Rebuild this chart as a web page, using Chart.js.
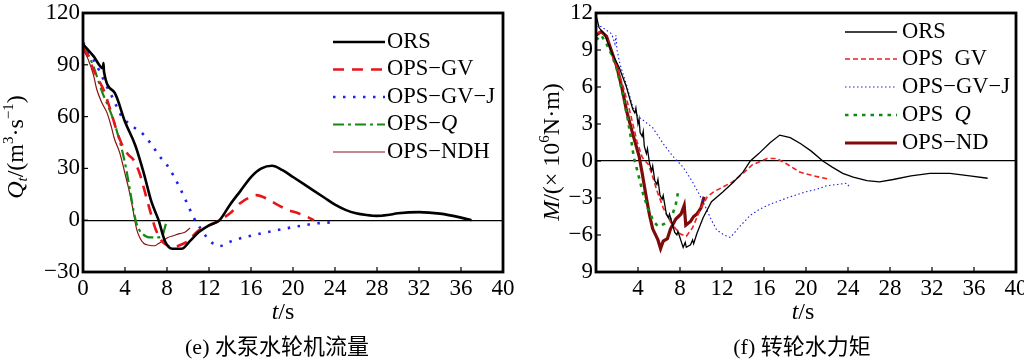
<!DOCTYPE html>
<html>
<head>
<meta charset="utf-8">
<script src="https://cdn.jsdelivr.net/npm/chart.js@4.4.0/dist/chart.umd.min.js"></script>
<style>
html, body { margin: 0; padding: 0; background: #fff; }
#wrap { position: relative; width: 1024px; height: 364px; overflow: hidden; }
.box { position: absolute; top: 0; height: 364px; }
</style>
</head>
<body>
<div id="wrap">
  <div class="box" style="left:0;width:520px"><canvas id="flow"></canvas></div>
  <div class="box" style="left:520px;width:504px"><canvas id="torque"></canvas></div>
</div>
<script>
// ---- (e) pump-turbine flow, Q (m3/s) vs t (s)
var flowOrsT = [0, 1, 1.9, 1.95, 2.0, 3, 4, 5, 5.8, 6.5, 7.2, 7.8, 8.5, 9.4, 10.2, 11, 12, 13, 14, 15, 16, 17, 18, 19, 20, 21, 22, 23, 24, 25, 26, 27, 28, 29, 30, 32, 34, 36, 37];
var flowOrsQ = [102, 95, 88, 91, 86, 74, 57, 43, 27, 11, 0, -12, -16.5, -16.5, -12, -7, -3, 0, 9, 17, 25, 30, 31.5, 29, 25, 21, 17, 13, 9, 6, 4, 3, 2.5, 3, 4, 4.7, 3.8, 1.5, 0];
var flowGvT = [0, 0.5, 1, 1.6, 2, 2.6, 3.2, 3.7, 4.3, 4.8, 5.4, 6, 6.5, 6.9, 7.5, 8, 8.5, 9, 9.9, 11, 12, 13, 14, 15, 16, 16.5, 17.5, 18.5, 19.5, 20.5, 21.5, 22];
var flowGvQ = [100, 95, 87, 80, 75, 64, 52, 44, 38, 35, 27, 14, 3, -5, -12, -14.5, -16, -15, -12.5, -6, -3, 0, 4, 10, 13.5, 14.5, 12.5, 9, 6, 4, 1.5, 0];
var flowGvjT = [0, 0.5, 1, 1.6, 2.3, 2.9, 3.5, 4, 4.8, 5.7, 6.5, 7.3, 8, 8.6, 9.2, 9.9, 10.5, 11, 11.8, 12.5, 13, 14, 15, 16.2, 17.5, 18.5, 20, 21, 22, 23, 24.2];
var flowGvjQ = [103, 98, 93, 86, 77, 70, 62, 58, 54, 50, 44, 37, 32, 26, 19, 10, 2, -3, -10, -14, -15, -12.5, -10.5, -8.7, -7, -5.8, -4, -3, -2, -1.5, -1];
var flowQT = [0, 0.4, 1, 1.5, 1.9, 2.4, 2.9, 3.3, 3.7, 4.1, 4.4, 4.8, 5.1, 5.4, 5.9, 6.4, 7, 7.5, 7.9];
var flowQQ = [100, 97, 89, 80, 73, 66, 58, 50, 41, 30, 20, 6, -2, -6, -9, -10, -10, -9.5, -2];
var flowNdhT = [0, 0.5, 1, 1.3, 1.8, 2.3, 2.7, 3, 3.5, 4, 4.4, 4.7, 5.1, 5.4, 5.8, 6.3, 6.8, 7.2, 7.6, 8.1, 8.6, 9.2, 9.7, 10.2];
var flowNdhQ = [99, 93, 84, 76, 68, 62, 54, 47, 39, 27, 17, 8, -5, -10, -13.5, -14.5, -14.8, -13.5, -12, -10, -9, -7.8, -7, -4.5];

// ---- (f) runner torque, M (x10^6 N.m) vs t (s)
var torqueOrsT = [0, 0.1, 0.3, 0.8, 1.6, 2.2, 2.9, 3.5, 3.7, 3.8, 4.0, 4.1, 4.2, 4.4, 4.5, 4.6, 4.8, 4.9, 5.1, 5.3, 5.4, 5.6, 5.8, 5.9, 6.1, 6.3, 6.4, 6.7, 6.9, 7.0, 7.5, 7.7, 7.8, 8.3, 8.5, 8.6, 9, 9.2, 9.3, 9.6, 10.2, 11, 12.1, 13.1, 14, 14.7, 15.5, 16.6, 17.5, 18.5, 19.5, 20.5, 21.6, 22.5, 23.5, 24.5, 25.8, 27, 28.3, 30, 31.8, 33.7, 35.6, 37.3];
var torqueOrsM = [11.8, 11.5, 10.8, 10.3, 8.6, 7.6, 6, 4.2, 3.9, 4.3, 3.0, 3.4, 2.3, 2.0, 2.4, 1.2, 0.6, 1.0, -0.2, -0.8, -0.4, -1.6, -1.9, -1.5, -2.8, -3.1, -2.8, -4.3, -4.6, -4.3, -5.8, -6.0, -5.7, -7, -6.6, -7.0, -6.8, -6.4, -6.7, -5.9, -4.6, -3.3, -2.5, -1.7, -0.9, 0, 0.6, 1.5, 2.1, 1.9, 1.4, 0.8, 0, -0.5, -1, -1.3, -1.6, -1.7, -1.5, -1.2, -1, -1, -1.2, -1.4];
var torqueGvT = [0, 0.5, 1, 1.6, 2, 2.6, 3.2, 3.9, 4.4, 5, 5.3, 5.8, 6.4, 7.2, 8, 8.6, 9.2, 10, 10.6, 11.2, 12.1, 13, 14, 14.9, 16.3, 17.2, 18.1, 19.4, 20.7, 22.3];
var torqueGvM = [10.3, 10.5, 10, 8.5, 7.6, 6, 4.1, 1.6, 0.3, -0.3, -1, -2.4, -3.8, -5.1, -5.9, -6.1, -5.4, -3.8, -2.9, -2.5, -2.1, -1.7, -1, -0.3, 0.2, 0.2, -0.2, -0.9, -1.2, -1.5];
var torqueGvjT = [0, 0.5, 1, 1.5, 1.8, 1.9, 2, 2.3, 2.9, 3.5, 4, 4.5, 5.4, 6.4, 7.3, 8.3, 9.2, 10.2, 11, 11.5, 12.2, 12.8, 13.7, 14.7, 15.6, 16.6, 18.5, 20, 21, 22, 23, 23.9, 24.2];
var torqueGvjM = [10.9, 10.9, 10.6, 10.3, 9.5, 10.2, 9, 7.8, 6.2, 4.4, 3.6, 3.3, 2.7, 1.4, 0.4, -0.5, -1.7, -3.3, -4.8, -5.6, -6, -6.2, -5.3, -4.4, -3.9, -3.5, -2.9, -2.5, -2.3, -2, -1.9, -1.8, -2.2];
var torqueQT = [0, 0.5, 1, 1.5, 2, 2.5, 3, 3.3, 3.6, 4, 4.5, 5, 5.5, 5.9, 6.5, 7, 7.3, 7.6, 7.8];
var torqueQM = [9.8, 10.2, 9.5, 8.6, 7.4, 5.6, 3.5, 2, 0.3, -1, -2.7, -4, -4.9, -5.3, -5.1, -4.8, -4.3, -3.5, -2.6];
var torqueNdT = [0, 0.5, 1, 1.4, 2, 2.5, 2.9, 3.5, 4.1, 4.4, 4.8, 5.1, 5.4, 5.9, 6.15, 6.4, 6.8, 7.1, 7.6, 8.1, 8.4, 8.55, 9, 9.3, 9.6, 10, 10.3];
var torqueNdM = [10.2, 10.5, 10.1, 9.1, 7.6, 5.8, 4.1, 2.2, 0.4, -1, -3, -4.4, -5.5, -6.4, -7.1, -6.5, -6.3, -5.5, -4.7, -4.3, -3.6, -5.2, -4.9, -4.5, -4.3, -3.8, -2.9];

var flowLabels = ['ORS', 'OPS\u2212GV', 'OPS\u2212GV\u2212J', 'OPS\u2212Q', 'OPS\u2212NDH'];
var torqueLabels = ['ORS', 'OPS  GV', 'OPS\u2212GV\u2212J', 'OPS  Q', 'OPS\u2212ND'];

var SERIF = '"Liberation Serif", "Noto Sans CJK SC"';

function pts(ts, vs) {
  return ts.map(function (t, i) { return { x: t, y: vs[i] }; });
}

// draw a line of mixed italic / sub / sup text centred on (x, y)
function richText(ctx, parts, x, y, size, angle) {
  ctx.save();
  ctx.translate(x, y);
  if (angle) ctx.rotate(angle);
  var fontOf = function (p) {
    return (p.it ? 'italic ' : '') + Math.round(p.s ? size * 0.62 : size) + 'px ' + SERIF;
  };
  var w = 0;
  parts.forEach(function (p) { ctx.font = fontOf(p); p.w = ctx.measureText(p.t).width; w += p.w; });
  var cx = -w / 2;
  ctx.textBaseline = 'middle';
  ctx.textAlign = 'left';
  ctx.fillStyle = '#000';
  parts.forEach(function (p) {
    ctx.font = fontOf(p);
    var dy = p.s === 'sup' ? -size * 0.32 : (p.s === 'sub' ? size * 0.25 : 0);
    ctx.fillText(p.t, cx, dy);
    cx += p.w;
  });
  ctx.restore();
}

var framePlugin = {
  id: 'frame',
  afterDraw: function (chart) {
    var o = chart.options.plugins.frame;
    var ctx = chart.ctx;
    var a = chart.chartArea;
    ctx.save();
    // inward tick marks
    ctx.strokeStyle = '#000';
    ctx.lineWidth = 1.2;
    chart.scales.x.ticks.forEach(function (t) {
      var px = chart.scales.x.getPixelForValue(t.value);
      ctx.beginPath(); ctx.moveTo(px, a.bottom); ctx.lineTo(px, a.bottom - 5); ctx.stroke();
    });
    chart.scales.y.ticks.forEach(function (t) {
      var py = chart.scales.y.getPixelForValue(t.value);
      ctx.beginPath(); ctx.moveTo(a.left, py); ctx.lineTo(a.left + 5, py); ctx.stroke();
    });
    // box
    ctx.lineWidth = 2.8;
    ctx.strokeRect(a.left, a.top, a.right - a.left, a.bottom - a.top);

    // legend inside the plot
    chart.data.datasets.forEach(function (ds, i) {
      var y = o.rowY[i];
      ctx.save();
      ctx.strokeStyle = ds.borderColor;
      ctx.lineWidth = ds.borderWidth;
      ctx.setLineDash(ds.borderDash || []);
      ctx.beginPath(); ctx.moveTo(o.legX0, y); ctx.lineTo(o.legX1, y); ctx.stroke();
      ctx.restore();
      ctx.fillStyle = '#000';
      ctx.textBaseline = 'middle';
      ctx.textAlign = 'left';
      var lab = ds.label;
      var italicQ = lab.charAt(lab.length - 1) === 'Q';
      var head = italicQ ? lab.slice(0, -1) : lab;
      ctx.font = o.legSize + 'px ' + SERIF;
      ctx.fillText(head, o.textX, y);
      if (italicQ) {
        var hw = ctx.measureText(head).width;
        ctx.font = 'italic ' + o.legSize + 'px ' + SERIF;
        ctx.fillText('Q', o.textX + hw, y);
      }
    });

    // axis titles
    richText(ctx, o.yTitle, o.yTitleX, o.yTitleY, 24, -Math.PI / 2);
    richText(ctx, [{ t: 't', it: 1 }, { t: '/s' }], o.xTitleX, o.xTitleY, 24);
    // caption
    ctx.font = '22px ' + SERIF;
    ctx.textAlign = 'center';
    ctx.textBaseline = 'middle';
    ctx.fillStyle = '#000';
    ctx.fillText(o.caption, o.captionX, o.captionY);
    ctx.restore();
  }
};

function makeScales(yMin, yMax, yStep, yFmt, xFmt, yWidth) {
  return {
    x: {
      type: 'linear', min: 0, max: 40,
      ticks: { stepSize: 4, padding: 3, color: '#000', font: { family: SERIF, size: 23 }, maxRotation: 0, callback: xFmt },
      grid: { display: false, drawTicks: false },
      border: { display: false },
      afterFit: function (s) { s.height = 364 - 272; s.paddingLeft = 0; s.paddingRight = 0; }
    },
    y: {
      type: 'linear', min: yMin, max: yMax,
      ticks: { stepSize: yStep, padding: 3, color: '#000', font: { family: SERIF, size: 23 }, callback: yFmt },
      grid: {
        drawTicks: false,
        lineWidth: 1.2,
        color: function (c) { return c.tick && c.tick.value === 0 ? '#000' : 'rgba(0,0,0,0)'; }
      },
      border: { display: false },
      afterFit: function (s) { s.width = yWidth; s.paddingTop = 0; s.paddingBottom = 0; }
    }
  };
}

function minus(v) { return v < 0 ? '\u2212' + Math.abs(v) : String(v); }

Chart.defaults.animation = false;

new Chart(document.getElementById('flow').getContext('2d'), {
  type: 'line',
  data: {
    datasets: [
      { label: flowLabels[0], data: pts(flowOrsT, flowOrsQ), borderColor: '#000000', borderWidth: 2.6 },
      { label: flowLabels[1], data: pts(flowGvT, flowGvQ), borderColor: '#e8141c', borderWidth: 2.6, borderDash: [11, 8] },
      { label: flowLabels[2], data: pts(flowGvjT, flowGvjQ), borderColor: '#2020f0', borderWidth: 2.6, borderDash: [2.5, 7.5] },
      { label: flowLabels[3], data: pts(flowQT, flowQQ), borderColor: '#138a13', borderWidth: 2.2, borderDash: [11, 4, 3, 4] },
      { label: flowLabels[4], data: pts(flowNdhT, flowNdhQ), borderColor: '#8b1010', borderWidth: 1.2 }
    ]
  },
  options: {
    responsive: true,
    maintainAspectRatio: false,
    layout: { padding: { left: 0, right: 17, top: 13, bottom: 0 } },
    elements: { point: { radius: 0 }, line: { cubicInterpolationMode: 'monotone', fill: false } },
    scales: makeScales(-30, 120, 30, minus, function (v) { return String(v); }, 83),
    plugins: {
      legend: { display: false },
      tooltip: { enabled: false },
      frame: {
        legX0: 333, legX1: 385, textX: 387, legSize: 22.5,
        rowY: [42, 69.5, 97, 124.5, 152],
        yTitle: [{ t: 'Q', it: 1 }, { t: 't', s: 'sub', it: 1 }, { t: '/(m' }, { t: '3', s: 'sup' }, { t: '\u00b7s' }, { t: '\u22121', s: 'sup' }, { t: ')' }],
        yTitleX: 17, yTitleY: 147,
        xTitleX: 283, xTitleY: 313,
        caption: '(e) 水泵水轮机流量', captionX: 277, captionY: 348
      }
    }
  },
  plugins: [framePlugin]
});

new Chart(document.getElementById('torque').getContext('2d'), {
  type: 'line',
  data: {
    datasets: [
      { label: torqueLabels[0], data: pts(torqueOrsT, torqueOrsM), borderColor: '#000000', borderWidth: 1.3 },
      { label: torqueLabels[1], data: pts(torqueGvT, torqueGvM), borderColor: '#ee2020', borderWidth: 1.6, borderDash: [5, 3] },
      { label: torqueLabels[2], data: pts(torqueGvjT, torqueGvjM), borderColor: '#2020e0', borderWidth: 1.1, borderDash: [1.5, 2.5] },
      { label: torqueLabels[3], data: pts(torqueQT, torqueQM), borderColor: '#128a12', borderWidth: 2.6, borderDash: [3.5, 5] },
      { label: torqueLabels[4], data: pts(torqueNdT, torqueNdM), borderColor: '#7f0a0a', borderWidth: 3.2 }
    ]
  },
  options: {
    responsive: true,
    maintainAspectRatio: false,
    layout: { padding: { left: 0, right: 8, top: 13, bottom: 0 } },
    elements: { point: { radius: 0 }, line: { tension: 0, fill: false } },
    scales: makeScales(-9, 12, 3,
      function (v) { return v === -9 ? '9' : minus(v); },
      function (v) { return v === 0 ? '' : String(v); }, 76),
    plugins: {
      legend: { display: false },
      tooltip: { enabled: false },
      frame: {
        legX0: 325, legX1: 377, textX: 382, legSize: 22.5,
        rowY: [32, 59, 87, 115, 143],
        yTitle: [{ t: 'M', it: 1 }, { t: '/(\u00d7 10' }, { t: '6', s: 'sup' }, { t: 'N\u00b7m)' }],
        yTitleX: 33, yTitleY: 152,
        xTitleX: 283, xTitleY: 313,
        caption: '(f) 转轮水力矩', captionX: 282, captionY: 348
      }
    }
  },
  plugins: [framePlugin]
});
</script>
</body>
</html>
